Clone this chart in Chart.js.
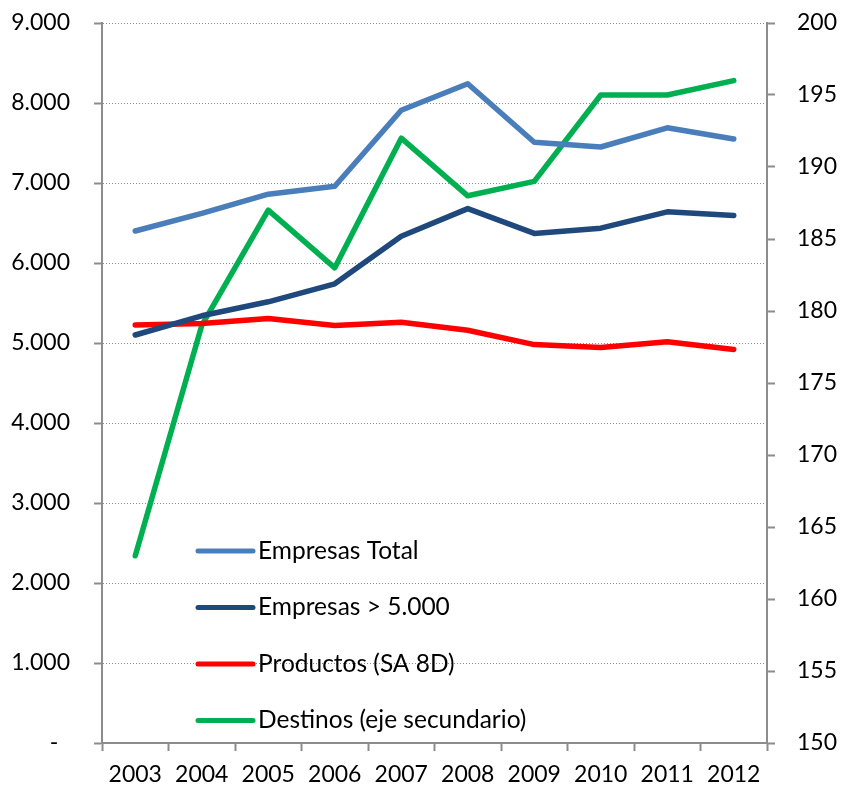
<!DOCTYPE html>
<html>
<head>
<meta charset="utf-8">
<script src="https://cdn.jsdelivr.net/npm/chart.js@4/dist/chart.umd.min.js"></script>
<style>
  html, body { margin: 0; padding: 0; background: #fff; }
  #wrap { width: 842px; height: 789px; position: relative; }
</style>
</head>
<body>
<div id="wrap"><canvas id="chart"></canvas></div>
<script>
// Datos
const years = ['2003', '2004', '2005', '2006', '2007', '2008', '2009', '2010', '2011', '2012'];
const empresasTotal = [6400, 6620, 6860, 6960, 7910, 8240, 7510, 7450, 7690, 7550];
const empresas5000 = [5100, 5340, 5515, 5740, 6335, 6680, 6370, 6435, 6640, 6595];
const productos = [5225, 5245, 5305, 5220, 5260, 5160, 4980, 4945, 5015, 4920];
const destinos = [163, 179, 187, 183, 192, 188, 189, 195, 195, 196];

const leftTicks = [0, 9000, 1000];   // min, max, paso
const rightTicks = [150, 200, 5];

const axisGrey = '#8c8c8c';
const fontFamily = 'Lato, "Open Sans", sans-serif';
const font = { family: fontFamily, size: 23 };

function fmtMiles(v) {
    if (v === 0) return '-  ';
    return String(v).replace(/\B(?=(\d{3})+(?!\d))/g, '.');
}

// Tamaños fijos de los ejes para que el área del gráfico quede en su sitio
function fitWidth(w) {
    return scale => {
        scale.width = w;
        scale.paddingTop = 0;
        scale.paddingBottom = 0;
    };
}

// Leyenda dibujada dentro del área del gráfico
const insideLegend = {
    id: 'insideLegend',
    afterDraw(chart) {
        const ctx = chart.ctx;
        const area = chart.chartArea;
        const x0 = area.left + 96;
        let y = 551;
        ctx.save();
        ctx.font = '24.5px ' + fontFamily;
        ctx.textBaseline = 'middle';
        ctx.textAlign = 'left';
        chart.data.datasets.forEach(ds => {
            ctx.strokeStyle = ds.borderColor;
            ctx.lineWidth = 5;
            ctx.lineCap = 'round';
            ctx.beginPath();
            ctx.moveTo(x0, y);
            ctx.lineTo(x0 + 55, y);
            ctx.stroke();
            ctx.fillStyle = '#000';
            ctx.fillText(ds.label, x0 + 60, y);
            y += 56.5;
        });
        ctx.restore();
    }
};

function serie(label, data, color, axis) {
    return {
        label: label,
        data: data,
        borderColor: color,
        backgroundColor: color,
        borderWidth: 5.5,
        borderCapStyle: 'round',
        borderJoinStyle: 'round',
        pointRadius: 0,
        tension: 0,
        yAxisID: axis
    };
}

new Chart(document.getElementById('chart'), {
    type: 'line',
    data: {
        labels: years,
        datasets: [
            serie('Empresas Total', empresasTotal, '#4a7ebb', 'y'),
            serie('Empresas > 5.000', empresas5000, '#1f497d', 'y'),
            serie('Productos (SA 8D)', productos, '#ff0000', 'y'),
            serie('Destinos (eje secundario)', destinos, '#00b050', 'y2')
        ]
    },
    options: {
        responsive: true,
        maintainAspectRatio: false,
        animation: false,
        layout: { padding: { left: 0, right: 0, top: 23, bottom: 0 } },
        plugins: {
            legend: { display: false },
            tooltip: { enabled: false }
        },
        scales: {
            x: {
                offset: true,
                afterFit: scale => {
                    scale.height = 46;
                    scale.paddingLeft = 0;
                    scale.paddingRight = 0;
                },
                grid: {
                    offset: true,
                    drawOnChartArea: false,
                    drawTicks: true,
                    tickLength: 8,
                    tickColor: axisGrey,
                    tickWidth: 2
                },
                border: { display: true, color: axisGrey, width: 2 },
                ticks: { color: '#000', font: font, padding: 10, maxRotation: 0 }
            },
            y: {
                position: 'left',
                min: leftTicks[0],
                max: leftTicks[1],
                afterFit: fitWidth(102),
                grid: {
                    color: '#8a8a8a',
                    lineWidth: 1,
                    tickColor: axisGrey,
                    tickWidth: 2,
                    tickLength: 8
                },
                border: { display: true, color: axisGrey, width: 2, dash: [1, 2] },
                ticks: {
                    stepSize: leftTicks[2],
                    color: '#000',
                    font: font,
                    padding: 24,
                    callback: v => fmtMiles(v)
                }
            },
            y2: {
                position: 'right',
                min: rightTicks[0],
                max: rightTicks[1],
                afterFit: fitWidth(75),
                grid: {
                    drawOnChartArea: false,
                    tickColor: axisGrey,
                    tickWidth: 2,
                    tickLength: 8
                },
                border: { display: true, color: axisGrey, width: 2 },
                ticks: {
                    stepSize: rightTicks[2],
                    color: '#000',
                    font: font,
                    padding: 22
                }
            }
        }
    },
    plugins: [insideLegend]
});
</script>
</body>
</html>
